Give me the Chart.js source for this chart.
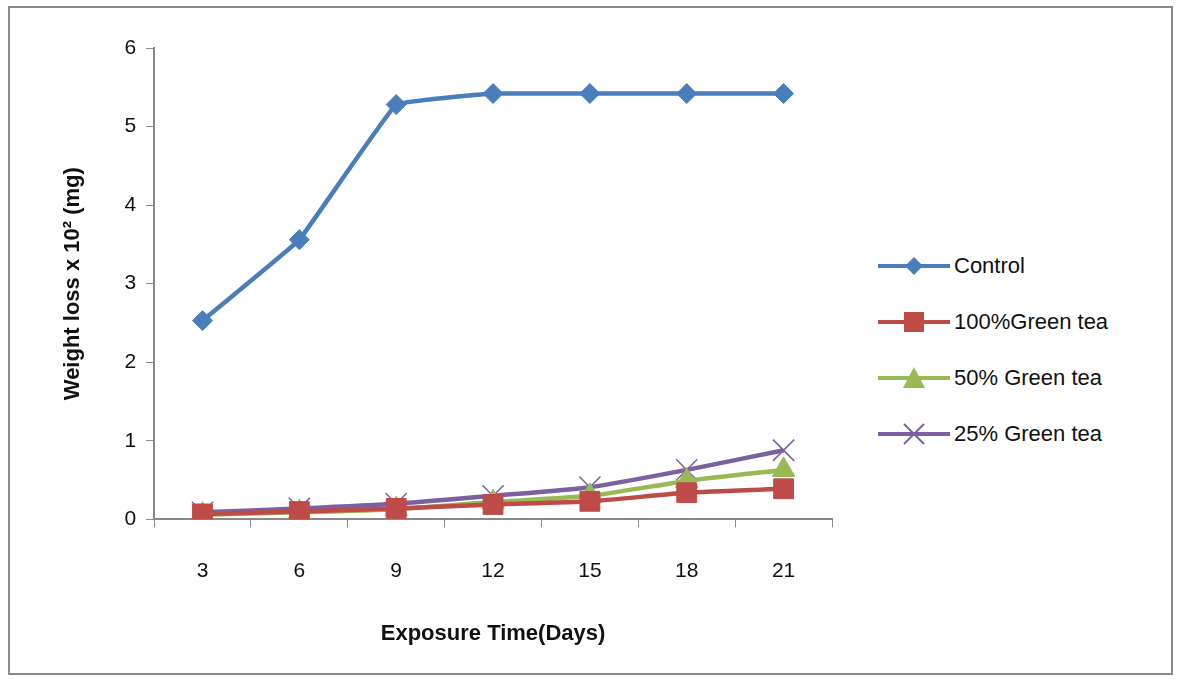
<!DOCTYPE html>
<html><head><meta charset="utf-8">
<script src="https://cdn.jsdelivr.net/npm/chart.js@4"></script>
<style>
body{margin:0;background:#fff;font-family:"Liberation Sans",Arial,sans-serif;}
#frame{position:absolute;left:8px;top:6px;width:1165px;height:669px;border:2px solid #8a8a8a;box-sizing:border-box;}
#wrap{position:absolute;left:0;top:0;width:860px;height:679px;}
#legend{position:absolute;left:878px;top:238px;font-size:22px;color:#111;}
.li{display:flex;align-items:center;height:56px;}
.li svg{margin-right:4px;}
</style></head><body>
<div id="frame"></div>
<div id="wrap"><canvas id="c"></canvas></div>
<div id="legend"></div>
<script>
// Perda de massa por tempo de exposição
const days=['3','6','9','12','15','18','21'];
const control=[2.53,3.56,5.28,5.42,5.42,5.42,5.42];
const tea100=[0.07,0.10,0.14,0.19,0.23,0.34,0.39];
const tea50=[0.06,0.09,0.13,0.22,0.30,0.49,0.63];
const tea25=[0.09,0.14,0.20,0.30,0.41,0.63,0.88];
const names=['Control','100%Green tea','50% Green tea','25% Green tea'];
const colors=['#4a7ebb','#be4b48','#98b954','#7d60a0'];
const styles=['rectRot','rect','triangle','crossRot'];
const series=[control,tea100,tea50,tea25];

new Chart(document.getElementById('c'),{
  type:'line',
  data:{labels:days,datasets:series.map((s,i)=>({label:names[i],data:s,borderColor:colors[i],backgroundColor:colors[i],
    borderWidth:4.5,pointStyle:styles[i],pointRadius:[10,14,13,15][i],pointBorderWidth:i==3?1.5:1,tension:i==0?0.06:0.2}))},
  options:{responsive:true,maintainAspectRatio:false,animation:false,
    layout:{padding:{left:56,top:48,right:28,bottom:28}},
    plugins:{legend:{display:false},tooltip:{enabled:false}},
    scales:{
      x:{offset:true,grid:{display:true,drawOnChartArea:false,color:'#888',tickLength:8,offset:true},border:{color:'#888',width:2},
        ticks:{color:'#111',font:{size:21,family:'Liberation Sans'},padding:31},
        title:{display:true,text:'Exposure Time(Days)',color:'#111',font:{size:22,weight:'bold',family:'Liberation Sans'},padding:{top:6}}},
      y:{min:0,max:6,grid:{drawOnChartArea:false,color:'#888',tickLength:8},border:{color:'#888',width:2},
        ticks:{stepSize:1,color:'#111',font:{size:21,family:'Liberation Sans'},padding:10},
        title:{display:true,text:'Weight loss x 10² (mg)',color:'#111',font:{size:22,weight:'bold',family:'Liberation Sans'},padding:{bottom:28}}}
    }}
});

const lg=document.getElementById('legend');
const shapes=[
  c=>'<polygon points="36,3 45,12 36,21 27,12" fill="'+c+'"/>',
  c=>'<rect x="26" y="2" width="20" height="20" fill="'+c+'"/>',
  c=>'<polygon points="36,1 47,22 25,22" fill="'+c+'"/>',
  c=>'<path d="M26,2 L46,22 M46,2 L26,22" stroke="'+c+'" stroke-width="2"/>'
];
names.forEach((n,i)=>{
  lg.innerHTML+='<div class="li"><svg width="72" height="24"><line x1="0" y1="12" x2="72" y2="12" stroke="'+colors[i]+'" stroke-width="4"/>'+shapes[i](colors[i])+'</svg>'+n+'</div>';
});
</script></body></html>
